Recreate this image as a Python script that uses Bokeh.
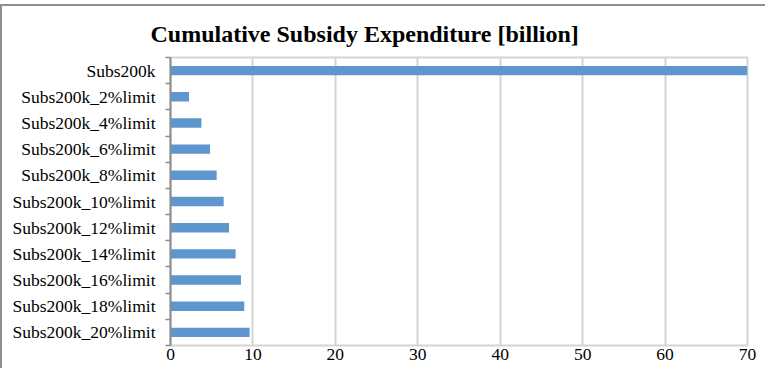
from bokeh.plotting import figure
from bokeh.models import FixedTicker, Range1d, ColumnDataSource
from bokeh.embed import file_html
from bokeh.resources import INLINE

categories = ["Subs200k", "Subs200k_2%limit", "Subs200k_4%limit", "Subs200k_6%limit",
              "Subs200k_8%limit", "Subs200k_10%limit", "Subs200k_12%limit",
              "Subs200k_14%limit", "Subs200k_16%limit", "Subs200k_18%limit",
              "Subs200k_20%limit"]
values = [70.0, 2.25, 3.75, 4.8, 5.6, 6.45, 7.1, 7.9, 8.55, 8.95, 9.6]
x_ticks = [0, 10, 20, 30, 40, 50, 60, 70]

n = len(categories)
ypos = [n - 1 - i for i in range(n)]
src = ColumnDataSource(dict(y=ypos, v=values, cat=categories))

FONT = "Liberation Serif"

p = figure(width=765, height=364, output_backend="svg", toolbar_location=None,
           x_range=Range1d(0, 70), y_range=Range1d(-0.5, n - 0.5),
           title="Cumulative Subsidy Expenditure [billion]",
           min_border_left=168, min_border_right=20, min_border_top=51, min_border_bottom=25)
# outer chart-area border (only its top and left edges fall inside the window)
p.styles = {"border-top": "2px solid #8f8f8f", "border-left": "2px solid #8f8f8f",
            "margin-top": "4px"}

p.title.text_font = FONT
p.title.text_font_size = "24px"
p.title.text_font_style = "bold"
p.title.text_color = "black"
p.title.align = "left"
p.title.offset = -20
p.title.standoff = 22

p.hbar(y="y", right="v", left=0, height=0.36, source=src, color="#5e96cd", line_color=None)

p.outline_line_color = "#d4d4d4"
p.outline_line_width = 2
p.background_fill_color = "white"
p.border_fill_color = "white"

p.ygrid.grid_line_color = None
p.xgrid.grid_line_color = "#d4d4d4"
p.xgrid.grid_line_width = 2

xa = p.xaxis[0]
xa.ticker = FixedTicker(ticks=x_ticks)
xa.axis_line_color = None
xa.major_tick_out = 0
xa.major_tick_in = 0
xa.minor_tick_line_color = None
xa.major_label_text_font = FONT
xa.major_label_text_font_size = "17.5px"
xa.major_label_text_color = "black"
xa.major_label_standoff = 3

ya = p.yaxis[0]
ya.ticker = FixedTicker(ticks=ypos, minor_ticks=[k - 0.5 for k in range(n + 1)])
ya.major_label_overrides = {y: c for y, c in zip(ypos, categories)}
ya.axis_line_color = "#8c8c8c"
ya.axis_line_width = 2
ya.major_tick_out = 0
ya.major_tick_in = 0
ya.minor_tick_out = 5
ya.minor_tick_in = 0
ya.minor_tick_line_color = "#8c8c8c"
ya.minor_tick_line_width = 1.5
ya.major_label_text_font = FONT
ya.major_label_text_font_size = "17.5px"
ya.major_label_text_color = "black"
ya.major_label_standoff = 10

open("out.html", "w").write(file_html(p, INLINE))
